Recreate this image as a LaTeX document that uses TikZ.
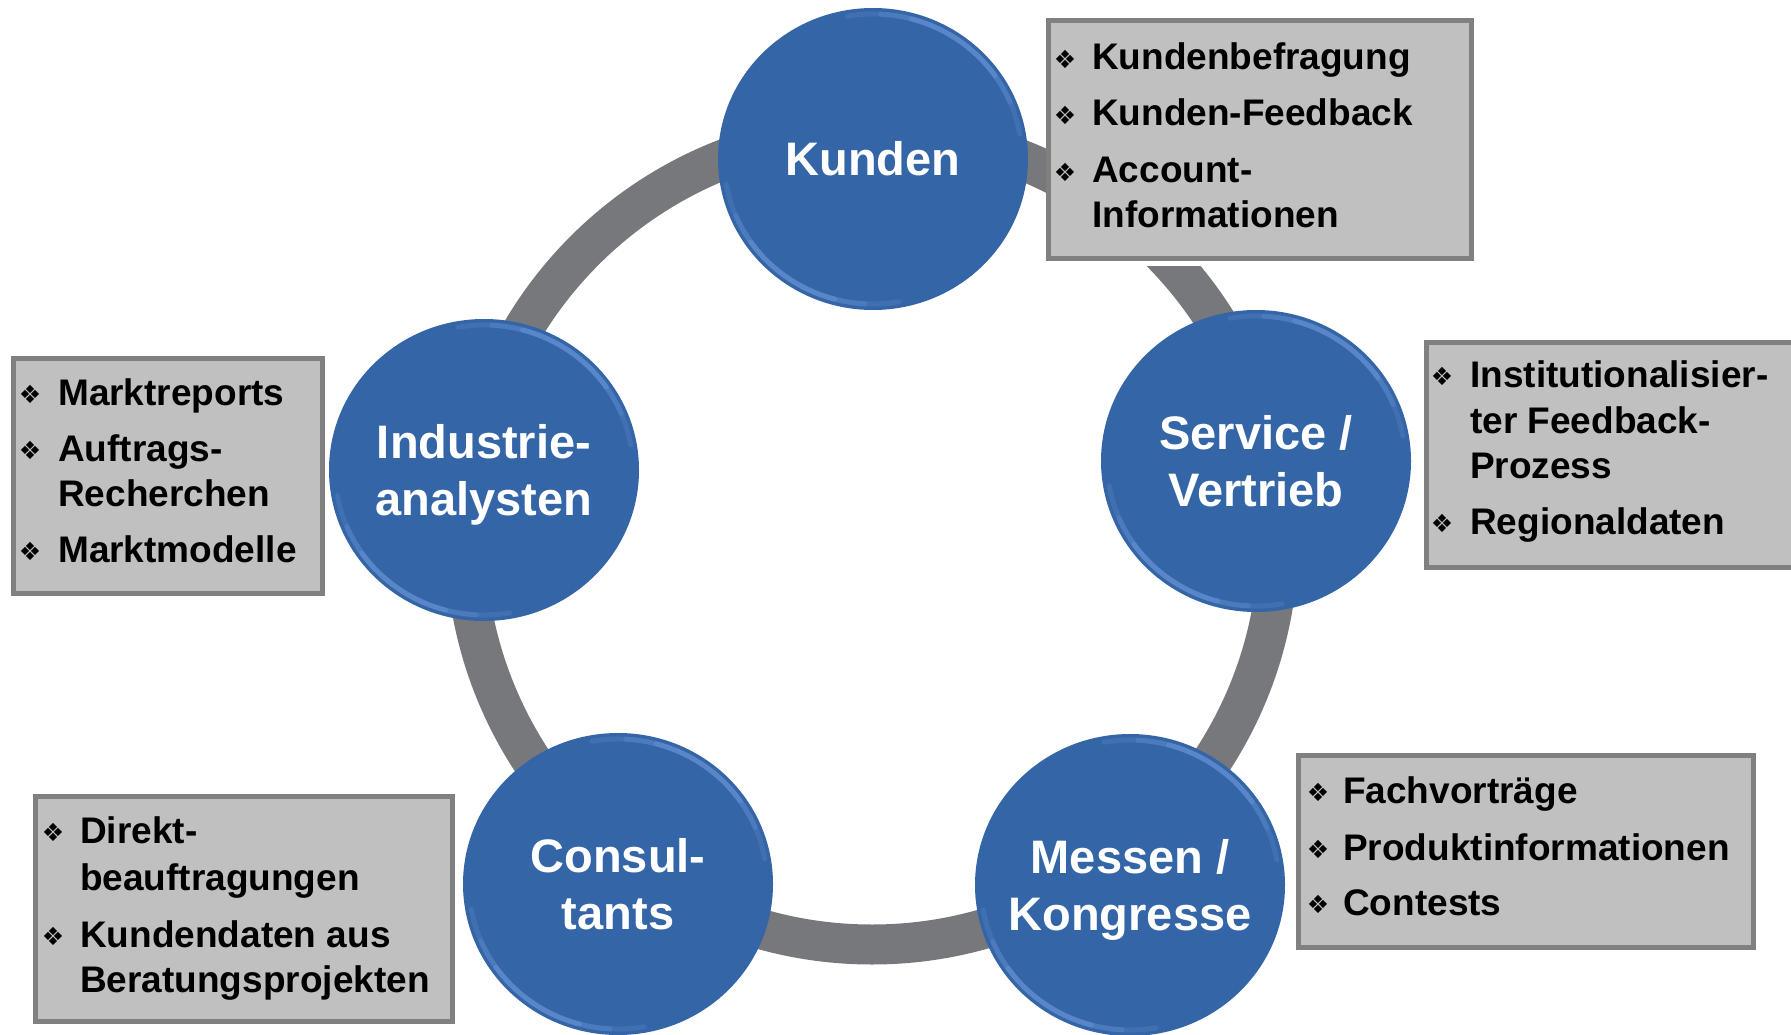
\documentclass[tikz,border=0pt]{standalone}
\usepackage{fontspec}
\setmainfont{Liberation Sans}
\newfontfamily\symfont{DejaVu Sans}
\usetikzlibrary{calc,shapes.geometric}
\definecolor{ringgray}{HTML}{77787B}
\definecolor{ballblue}{HTML}{3465A7}
\definecolor{balllight}{HTML}{7AA6E8}
\definecolor{boxfill}{HTML}{C0C0C0}
\definecolor{boxline}{HTML}{808080}
\newcommand\mybevel[1]{%
  \foreach \c in {-55,125}{%
    \foreach \w/\op in {45/0.18,32/0.22,20/0.28}{%
      \draw[balllight, line width=5pt, opacity=\op, line cap=round]
        (#1.center) ++({149*cos(\c-\w)},{145*sin(\c-\w)})
        arc[start angle=\c-\w, end angle=\c+\w, x radius=149, y radius=145];
    }}}
\newcommand\mybul[3]{\node[bulletmark] (#1) at (#2,#3-10.5) {\symfont ❖};}
\begin{document}
\begin{tikzpicture}[x=1pt,y=-1pt,
  ball/.style={ellipse, minimum width=310pt, minimum height=302pt, inner sep=0pt, fill=ballblue},
  balltext/.style={anchor=base, text=white, font=\fontsize{47}{56}\selectfont\bfseries, inner sep=0pt},
  infobox/.style={rectangle, fill=boxfill, draw=boxline, line width=5pt, anchor=north west, inner sep=0pt},
  itemtext/.style={anchor=base west, font=\fontsize{37}{45}\selectfont\bfseries, inner sep=0pt},
  bulletmark/.style={anchor=center, font=\fontsize{25}{25}\selectfont, inner sep=0pt},
]
\useasboundingbox (0,0) rectangle (1791,1035);
\clip (0,0) rectangle (1791,1035);

% ring
\coordinate (ringc) at (872,538);
\draw[ringgray, line width=40pt] (ringc) circle[radius=406.5];
\fill[white] (1040,258) rectangle (1300,266);

% boxes
\node[infobox, minimum width=423pt, minimum height=237pt] (kbox) at (1045.5,18.5) {};
\node[infobox, minimum width=380pt, minimum height=225pt] (sbox) at (1423.5,339.5) {};
\node[infobox, minimum width=309pt, minimum height=235pt] (ibox) at (10.5,355.5) {};
\node[infobox, minimum width=417pt, minimum height=225pt] (cbox) at (32.5,793.5) {};
\node[infobox, minimum width=455pt, minimum height=192pt] (mbox) at (1295.5,752.5) {};

% circles
\node[ball] (kunden) at (873,159) {};
\node[ball] (service) at (1256,461) {};
\node[ball] (industrie) at (484,470) {};
\node[ball] (consult) at (618,884) {};
\node[ball] (messen) at (1130,885) {};
\mybevel{kunden}
\mybevel{service}
\mybevel{industrie}
\mybevel{consult}
\mybevel{messen}

% circle labels
\node[balltext] (kt) at ($(kunden.center)+(0,17)$) {Kunden};
\node[balltext] (st1) at ($(service.center)+(0,-11.5)$) {Service /};
\node[balltext] (st2) at ($(service.center)+(0,45.5)$) {Vertrieb};
\node[balltext] (it1) at ($(industrie.center)+(0,-11.5)$) {Industrie-};
\node[balltext] (it2) at ($(industrie.center)+(0,45.5)$) {analysten};
\node[balltext] (ct1) at ($(consult.center)+(0,-11.5)$) {Consul-};
\node[balltext] (ct2) at ($(consult.center)+(0,45.5)$) {tants};
\node[balltext] (mt1) at ($(messen.center)+(0,-11.5)$) {Messen /};
\node[balltext] (mt2) at ($(messen.center)+(0,45.5)$) {Kongresse};

% Kunden box
\mybul{kb1}{1065}{70}
\node[itemtext] (k1) at (1092,70) {Kundenbefragung};
\mybul{kb2}{1065}{126}
\node[itemtext] (k2) at (1092,126) {Kunden-Feedback};
\mybul{kb3}{1065}{183}
\node[itemtext] (k3) at (1092,183) {Account-};
\node[itemtext] (k4) at (1092,228) {Informationen};

% Service box
\mybul{sb1}{1442}{387}
\node[itemtext] (s1) at (1470,387) {Institutionalisier-};
\node[itemtext] (s2) at (1470,433) {ter Feedback-};
\node[itemtext] (s3) at (1470,478) {Prozess};
\mybul{sb2}{1442}{534}
\node[itemtext] (s4) at (1470,534) {Regionaldaten};

% Industrie box
\mybul{ib1}{30}{405}
\node[itemtext] (i1) at (58,405) {Marktreports};
\mybul{ib2}{30}{461}
\node[itemtext] (i2) at (58,461) {Auftrags-};
\node[itemtext] (i3) at (58,506) {Recherchen};
\mybul{ib3}{30}{562}
\node[itemtext] (i4) at (58,562) {Marktmodelle};

% Consultants box
\mybul{cb1}{53}{843}
\node[itemtext] (c1) at (80,843) {Direkt-};
\node[itemtext] (c2) at (80,890) {beauftragungen};
\mybul{cb2}{53}{947}
\node[itemtext] (c3) at (80,947) {Kundendaten aus};
\node[itemtext] (c4) at (80,992) {Beratungsprojekten};

% Messen box
\mybul{mb1}{1318}{803}
\node[itemtext] (m1) at (1343,803) {Fachvorträge};
\mybul{mb2}{1318}{860}
\node[itemtext] (m2) at (1343,860) {Produktinformationen};
\mybul{mb3}{1318}{915}
\node[itemtext] (m3) at (1343,915) {Contests};
\end{tikzpicture}
\end{document}
